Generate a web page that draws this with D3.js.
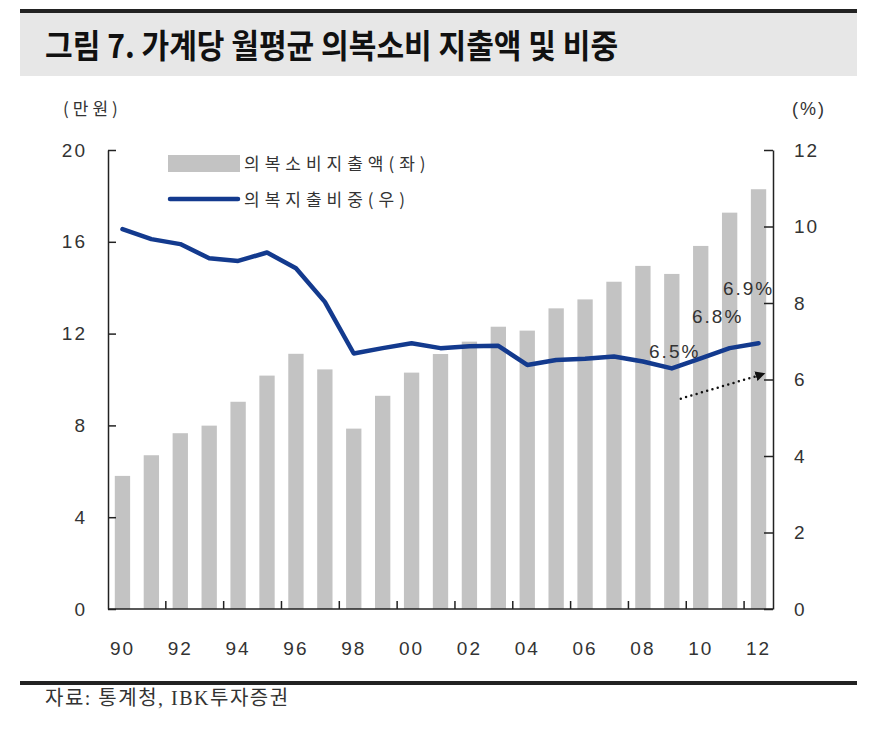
<!DOCTYPE html>
<html>
<head>
<meta charset="utf-8">
<script src="https://cdn.jsdelivr.net/npm/d3@7"></script>
<style>
  html, body { margin: 0; padding: 0; background: #fff; }
  svg { display: block; }
</style>
</head>
<body>
<svg id="chart" width="875" height="735"></svg>
<script>
// ---- data ----
const years = [1990,1991,1992,1993,1994,1995,1996,1997,1998,1999,2000,2001,2002,2003,2004,2005,2006,2007,2008,2009,2010,2011,2012];
const spending = [5.8,6.7,7.66,7.99,9.03,10.17,11.12,10.44,7.86,9.29,10.3,11.11,11.65,12.3,12.13,13.1,13.49,14.26,14.95,14.6,15.82,17.27,18.29];
const share = [9.93,9.67,9.54,9.17,9.10,9.32,8.91,8.03,6.68,6.82,6.95,6.82,6.87,6.88,6.38,6.51,6.54,6.60,6.47,6.29,6.55,6.82,6.95];
const xTickLabels = ["90","92","94","96","98","00","02","04","06","08","10","12"];
const leftTicks = [0,4,8,12,16,20];
const rightTicks = [0,2,4,6,8,10,12];
const annoYears = [2010, 2011, 2012];
const annoTexts = ["6.5%", "6.8%", "6.9%"];
const titleText = "그림 7. 가계당 월평균 의복소비 지출액 및 비중";
const legendLabels = ["의복소비지출액(좌)", "의복지출비중(우)"];
const leftUnit = "(만원)";
const rightUnit = "(%)";
const sourceText = "자료: 통계청, IBK투자증권";

// ---- layout ----
const svg = d3.select("#chart");
const L = 108, R = 773, T = 150, B = 609;
const numFont = "'Liberation Sans', Arial, sans-serif";
const krFont = "'Noto Sans CJK KR', sans-serif";
const textCol = "#333";
const barCol = "#c3c3c3";
const lineCol = "#133a8e";

const x = d3.scaleBand().domain(years).range([L, R]).paddingInner(0.47).paddingOuter(0.235);
const yL = d3.scaleLinear().domain([0, 20]).range([B, T]);
const yR = d3.scaleLinear().domain([0, 12]).range([B, T]);
const cx = d => x(d) + x.bandwidth() / 2;
const step = x.step();

// title band
svg.append("rect").attr("x", 20).attr("y", 12).attr("width", 837).attr("height", 64).attr("fill", "#e7e7e7");
svg.append("rect").attr("x", 20).attr("y", 9).attr("width", 837).attr("height", 4).attr("fill", "#222");
svg.append("text")
  .attr("transform", "translate(45,58) scale(0.97,1.05)")
  .attr("font-family", krFont).attr("font-weight", "bold").attr("font-size", 31)
  .attr("fill", "#111").text(titleText);

// bars
svg.append("g").selectAll("rect").data(years).join("rect")
  .attr("x", d => x(d)).attr("width", x.bandwidth())
  .attr("y", (d, i) => yL(spending[i]))
  .attr("height", (d, i) => B - yL(spending[i]))
  .attr("fill", barCol);

// left axis
const axL = svg.append("g").attr("transform", `translate(${L},0)`)
  .call(d3.axisLeft(yL).tickValues(leftTicks).tickSizeInner(-8).tickSizeOuter(0).tickPadding(21));
axL.select(".domain").attr("stroke", "#222").attr("stroke-width", 1.5);
axL.selectAll(".tick line").attr("stroke", "#222").attr("stroke-width", 1.5);
axL.selectAll(".tick text").attr("font-family", numFont).attr("font-size", 19)
  .attr("letter-spacing", 2).attr("fill", textCol);

// right axis
const axR = svg.append("g").attr("transform", `translate(${R},0)`)
  .call(d3.axisRight(yR).tickValues(rightTicks).tickSizeInner(-9).tickSizeOuter(0).tickPadding(21));
axR.select(".domain").attr("stroke", "#222").attr("stroke-width", 1.5);
axR.selectAll(".tick line").attr("stroke", "#222").attr("stroke-width", 1.5);
axR.selectAll(".tick text").attr("font-family", numFont).attr("font-size", 19)
  .attr("letter-spacing", 2).attr("fill", textCol);

// bottom axis
svg.append("line").attr("x1", L).attr("x2", R).attr("y1", B).attr("y2", B)
  .attr("stroke", "#222").attr("stroke-width", 1.5);
const tickYears = years.filter((d, i) => i > 0 && i % 2 === 0);
svg.append("g").selectAll("line").data(tickYears).join("line")
  .attr("x1", d => x(d) - step * x.paddingInner() / 2)
  .attr("x2", d => x(d) - step * x.paddingInner() / 2)
  .attr("y1", B).attr("y2", B - 8)
  .attr("stroke", "#222").attr("stroke-width", 1.5);
const labelYears = years.filter((d, i) => i % 2 === 0);
svg.append("g").selectAll("text").data(labelYears).join("text")
  .attr("x", d => cx(d)).attr("y", B + 46)
  .attr("text-anchor", "middle")
  .attr("font-family", numFont).attr("font-size", 19).attr("letter-spacing", 2)
  .attr("fill", textCol)
  .text((d, i) => xTickLabels[i]);

// units
svg.append("text").attr("x", 63).attr("y", 115)
  .attr("font-family", krFont).attr("font-size", 17).attr("letter-spacing", 4)
  .attr("fill", textCol).text(leftUnit);
svg.append("text").attr("x", 792).attr("y", 115)
  .attr("font-family", numFont).attr("font-size", 18).attr("letter-spacing", 2)
  .attr("fill", textCol).text(rightUnit);

// line
const line = d3.line().x(d => cx(d)).y((d, i) => yR(share[i]));
svg.append("path").datum(years).attr("d", line)
  .attr("fill", "none").attr("stroke", lineCol).attr("stroke-width", 4.5)
  .attr("stroke-linejoin", "round").attr("stroke-linecap", "round");

// annotations
const annoOffsets = [[-26, 0], [-12, -25], [-10, -48]];
svg.append("g").selectAll("text").data(annoYears).join("text")
  .attr("x", (d, i) => cx(d) + annoOffsets[i][0])
  .attr("y", (d, i) => yR(share[years.indexOf(d)]) + annoOffsets[i][1])
  .attr("text-anchor", "middle")
  .attr("font-family", numFont).attr("font-size", 19).attr("letter-spacing", 2)
  .attr("fill", textCol)
  .text((d, i) => annoTexts[i]);

// dotted arrow
svg.append("defs").append("marker").attr("id", "arrow")
  .attr("viewBox", "0 0 10 10").attr("refX", 8).attr("refY", 5)
  .attr("markerWidth", 10).attr("markerHeight", 10).attr("markerUnits", "userSpaceOnUse")
  .attr("orient", "auto")
  .append("path").attr("d", "M0,0 L10,5 L0,10 Z").attr("fill", "#111");
const ax1 = cx(2009) + 9, ay1 = yR(5.5), ax2 = cx(2012) + 5, ay2 = yR(6.15);
svg.append("line").attr("x1", ax1).attr("y1", ay1).attr("x2", ax2 - 6).attr("y2", ay2 + 2)
  .attr("stroke", "#111").attr("stroke-width", 2.5)
  .attr("stroke-dasharray", "0 5.5").attr("stroke-linecap", "round");
svg.append("line").attr("x1", ax2 - 8).attr("y1", ay2 + 2.6).attr("x2", ax2).attr("y2", ay2)
  .attr("stroke", "none").attr("marker-end", "url(#arrow)");

// legend
svg.append("rect").attr("x", 168).attr("y", 155).attr("width", 72).attr("height", 17).attr("fill", barCol);
svg.append("line").attr("x1", 170).attr("x2", 238).attr("y1", 199).attr("y2", 199)
  .attr("stroke", lineCol).attr("stroke-width", 4.5).attr("stroke-linecap", "round");
svg.append("g").selectAll("text").data(legendLabels).join("text")
  .attr("x", 244).attr("y", (d, i) => 170 + i * 36)
  .attr("font-family", krFont).attr("font-size", 17).attr("letter-spacing", 5)
  .attr("fill", textCol).text(d => d);

// bottom rule and source
svg.append("rect").attr("x", 20).attr("y", 681).attr("width", 837).attr("height", 4).attr("fill", "#222");
svg.append("text").attr("x", 45).attr("y", 705)
  .attr("font-family", "'Liberation Serif', 'Noto Sans CJK KR', serif").attr("font-size", 20)
  .attr("letter-spacing", 1.5)
  .attr("fill", textCol).text(sourceText);
</script>
</body>
</html>
